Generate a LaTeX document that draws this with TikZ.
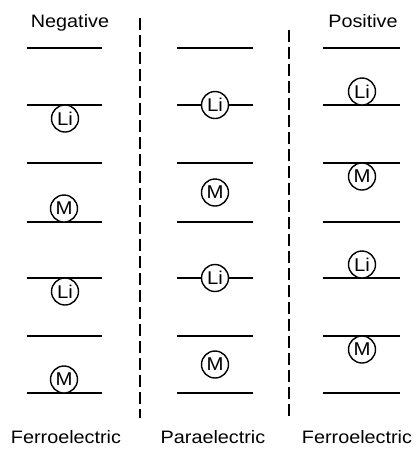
\documentclass[tikz,border=0pt]{standalone}
\usepackage{fontspec}
\setmainfont[FakeStretch=1.1]{Liberation Sans}
\usetikzlibrary{positioning}

\begin{document}
\begin{tikzpicture}[x=1pt,y=-1pt,
  ion/.style={circle,draw,line width=1.4pt,fill=white,minimum size=27pt,
    inner sep=0pt,font=\fontsize{18.5}{18.5}\selectfont},
  plane/.style={line width=1.9pt},
  wall/.style={line width=1.6pt,dash pattern=on 12pt off 5pt},
  lbl/.style={anchor=base,font=\fontsize{18}{18}\selectfont}]
\useasboundingbox (0,0) rectangle (417,451);
% lattice planes of the three columns
\foreach \y in {48,105,163,222,278,336,393} {
  \draw[plane] (27,\y)  -- (102,\y);
  \draw[plane] (177,\y) -- (253,\y);
  \draw[plane] (323,\y) -- (400,\y);
}
% negative ferroelectric
\node[ion] (liNa) at (65,118.5) {Li};
\node[ion] (mNa)  at (64,208.5) {M};
\node[ion] (liNb) at (65,291.5) {Li};
\node[ion] (mNb)  at (64,379.5) {M};
% paraelectric
\node[ion] (liPa) at (215,105)   {Li};
\node[ion] (mPa)  at (215,192.5) {M};
\node[ion] (liPb) at (215,278)   {Li};
\node[ion] (mPb)  at (215,364.5) {M};
% positive ferroelectric
\node[ion] (liFa) at (362,91.5)  {Li};
\node[ion] (mFa)  at (362,176.5) {M};
\node[ion] (liFb) at (362,264.5) {Li};
\node[ion] (mFb)  at (362,349.5) {M};
% domain walls
\coordinate (wallLtop) at (140,18);
\coordinate (wallLbot) at (140,418);
\coordinate (wallRtop) at (289,30);
\coordinate (wallRbot) at (289,418);
\draw[wall] (wallLtop) -- (wallLbot);
\draw[wall] (wallRtop) -- (wallRbot);
% labels
\node[lbl] (neg)    at (70,27)   {Negative};
\node[lbl] (pos)    at (363,27)  {Positive};
\node[lbl] (ferroL) at (66,443)  {Ferroelectric};
\node[lbl] (para)   at (213,443) {Paraelectric};
\node[lbl] (ferroR) at (357,443) {Ferroelectric};
\end{tikzpicture}
\end{document}
